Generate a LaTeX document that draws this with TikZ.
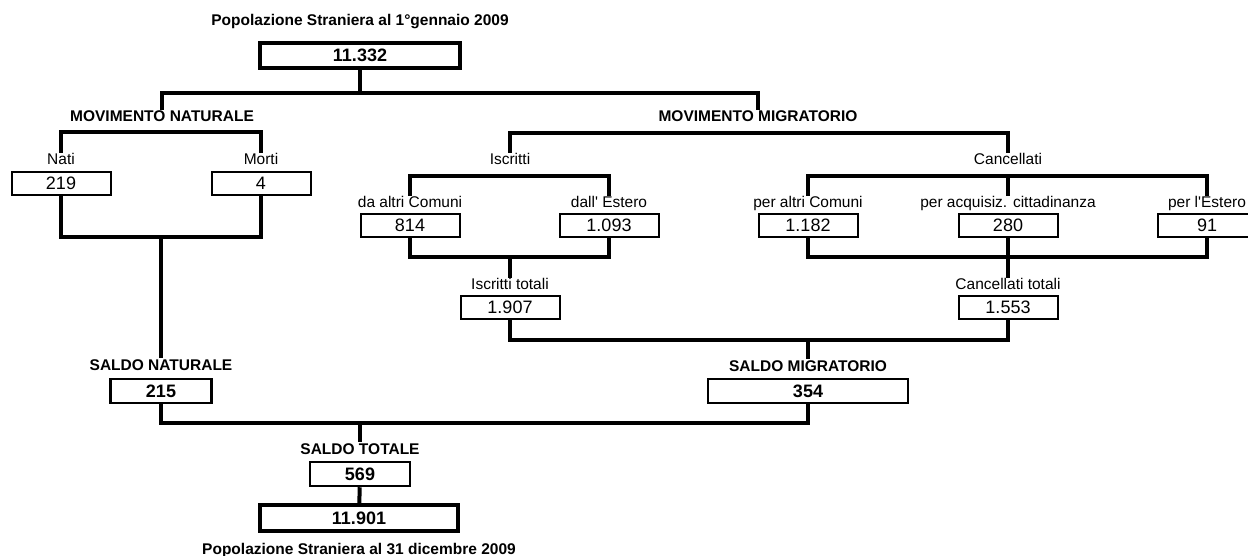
\documentclass[tikz,border=0pt]{standalone}
\usepackage{fontspec}
\setmainfont{Liberation Sans}
\usetikzlibrary{positioning}

\begin{document}
\begin{tikzpicture}[x=1pt, y=-1pt,
    box/.style={rectangle, draw=black, line width=2pt, fill=white, minimum width=99pt, minimum height=23pt, inner sep=0pt, font=\fontsize{18}{18}\selectfont},
    sumbox/.style={box, line width=2.5pt, minimum height=24pt, font=\bfseries\fontsize{18}{18}\selectfont},
    bigbox/.style={box, line width=4pt, minimum width=200pt, minimum height=25pt, font=\bfseries\fontsize{18}{18}\selectfont},
    lbl/.style={inner sep=1pt, text height=11pt, text depth=3pt, font=\fontsize{15.5}{16}\selectfont},
    head/.style={lbl, font=\bfseries\fontsize{15.5}{16}\selectfont},
    conn/.style={line width=4pt}
]
\useasboundingbox (0,0) rectangle (1248,556);

% Define nodes
\node[bigbox] (pop0) at (360,55.5) {11.332};
\node[head, above=11pt of pop0] (title0) {Popolazione Straniera al 1°gennaio 2009};

\node[head] (movnat) at (162,118) {MOVIMENTO NATURALE};
\node[head] (movmig) at (758,118) {MOVIMENTO MIGRATORIO};

% Natural movement
\node[box] (nati) at (61,183.5) {219};
\node[box] (morti) at (261,183.5) {4};
\node[lbl, above=2pt of nati] (natil) {Nati};
\node[lbl, above=2pt of morti] (mortil) {Morti};

% Migratory movement
\node[lbl] (iscr) at (510,161) {Iscritti};
\node[lbl] (canc) at (1008,161) {Cancellati};

\node[box] (incom) at (410,225.5) {814};
\node[box] (inest) at (609,225.5) {1.093};
\node[box] (outcom) at (808,225.5) {1.182};
\node[box] (outcit) at (1008,225.5) {280};
\node[box] (outest) at (1207,225.5) {91};
\node[lbl, above=1pt of incom] (incoml) {da altri Comuni};
\node[lbl, above=1pt of inest] (inestl) {dall{\textquotesingle} Estero};
\node[lbl, above=1pt of outcom] (outcoml) {per altri Comuni};
\node[lbl, above=1pt of outcit] (outcitl) {per acquisiz. cittadinanza};
\node[lbl, above=1pt of outest] (outestl) {per l{\textquotesingle}Estero};

\node[box] (isctot) at (510,307.5) {1.907};
\node[box] (cantot) at (1008,307.5) {1.553};
\node[lbl, above=1pt of isctot] (isctotl) {Iscritti totali};
\node[lbl, above=1pt of cantot] (cantotl) {Cancellati totali};

% Balances
\node[sumbox, minimum width=101pt] (saldonat) at (161,391) {215};
\node[sumbox, minimum width=200pt] (saldomig) at (808,391) {354};
\node[head, above=3pt of saldonat] (saldonatl) {SALDO NATURALE};
\node[head, above=2pt of saldomig] (saldomigl) {SALDO MIGRATORIO};

\node[sumbox, minimum width=100pt] (saldotot) at (360,474) {569};
\node[head, above=2pt of saldotot] (saldototl) {SALDO TOTALE};

\node[bigbox, minimum width=198pt, minimum height=26pt] (pop1) at (359,518) {11.901};
\node[head, below=9pt of pop1] (title1) {Popolazione Straniera al 31 dicembre 2009};

% Bar junctions
\coordinate (jtop) at (360,93);
\coordinate (jnat) at (161,237);
\coordinate (jisc) at (510,257);
\coordinate (jcan) at (1008,257);
\coordinate (jmig) at (808,340);
\coordinate (jtot) at (360,423);

% Draw connectors
\draw[conn] (pop0) -- (jtop);
\draw[conn] (movnat) |- (jtop) -| (movmig);

\draw[conn] (natil.north) -- ++(0,-21) -| (mortil.north);
\draw[conn] (nati) |- (jnat) -| (morti);
\draw[conn] (jnat) -- (saldonatl);

\draw[conn] (iscr.north) -- ++(0,-20) -| (canc.north);
\draw[conn] (incoml.north) -- ++(0,-20) -| (inestl.north);
\draw[conn] (outcoml.north) -- ++(0,-20) -| (outestl.north);
\draw[conn] (outcitl.north) -- ++(0,-20);

\draw[conn] (incom) |- (jisc) -| (inest);
\draw[conn] (jisc) -- (isctotl);
\draw[conn] (outcom) |- (jcan) -| (outest);
\draw[conn] (outcit) -- (cantotl);

\draw[conn] (isctot) |- (jmig) -| (cantot);
\draw[conn] (jmig) -- (saldomigl);

\draw[conn] (saldonat) |- (jtot) -| (saldomig);
\draw[conn] (jtot) -- (saldototl);
\draw[conn] (saldotot) -- (pop1);

\end{tikzpicture}
\end{document}
